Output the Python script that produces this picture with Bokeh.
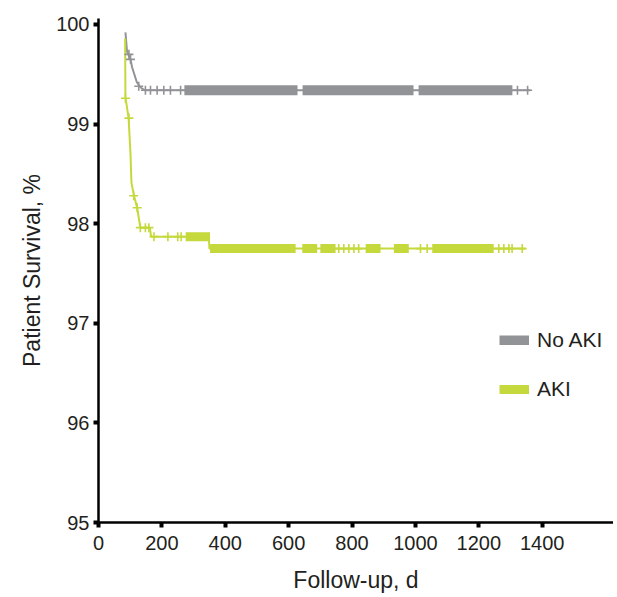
from bokeh.plotting import figure
from bokeh.models import Range1d, FixedTicker, Legend, LegendItem, ColumnDataSource
from bokeh.embed import file_html
from bokeh.resources import INLINE

# ---- data ----
x_ticks = [0, 200, 400, 600, 800, 1000, 1200, 1400]
y_ticks = [95, 96, 97, 98, 99, 100]

# No AKI survival curve (days, %)
noaki_days = [85, 90, 101, 106, 121, 132, 146, 1363]
noaki_surv = [99.92, 99.73, 99.65, 99.57, 99.42, 99.37, 99.34, 99.34]
# isolated censor marks
noaki_cens_days = [96, 101, 127, 148, 164, 185, 206, 227, 259, 1322, 1354]
noaki_cens_surv = [99.70, 99.65, 99.38, 99.34, 99.34, 99.34, 99.34, 99.34, 99.34, 99.34, 99.34]
# dense runs of censor marks (start day, end day, level)
noaki_band_start = [271, 644, 1010]
noaki_band_end = [628, 994, 1306]
noaki_band_level = [99.34, 99.34, 99.34]

# AKI survival curve
aki_days = [84, 85, 95, 101, 104, 112, 122, 132, 162, 166, 348, 350, 1347]
aki_surv = [99.86, 99.27, 99.06, 98.70, 98.41, 98.28, 98.16, 97.96, 97.96, 97.87, 97.87, 97.75, 97.75]
aki_cens_days = [85, 96, 111, 122, 132, 148, 159, 175, 219, 250, 261,
                 758, 774, 790, 806, 821, 1016, 1037, 1263, 1279, 1295, 1305, 1337]
aki_cens_surv = [99.26, 99.06, 98.28, 98.16, 97.96, 97.96, 97.96, 97.87, 97.87, 97.87, 97.87,
                 97.75, 97.75, 97.75, 97.75, 97.75, 97.75, 97.75, 97.75, 97.75, 97.75, 97.75, 97.75]
aki_band_start = [275, 352, 643, 700, 843, 932, 1053]
aki_band_end = [352, 622, 690, 748, 890, 979, 1247]
aki_band_level = [97.87, 97.75, 97.75, 97.75, 97.75, 97.75, 97.75]

GRAY = "#919396"
GREEN = "#c5d93c"
TEXT = "#231f20"
FONT = "Liberation Sans"

p = figure(frame_width=515, frame_height=504,
           x_range=Range1d(0, 1625), y_range=Range1d(95, 100.06),
           output_backend="svg", toolbar_location=None,
           min_border_left=98, min_border_top=18, min_border_bottom=70, min_border_right=0,
           background_fill_color="white", border_fill_color="white")
p.outline_line_color = None
p.grid.visible = False

# curves
p.line(noaki_days, noaki_surv, line_color=GRAY, line_width=2)
p.line(aki_days, aki_surv, line_color=GREEN, line_width=2)

# censor marks
p.scatter(noaki_cens_days, noaki_cens_surv, marker="cross", size=9, line_width=1.6, line_color=GRAY)
p.scatter(aki_cens_days, aki_cens_surv, marker="cross", size=9, line_width=1.6, line_color=GREEN)

gsrc = ColumnDataSource(dict(x0=noaki_band_start, x1=noaki_band_end, y=noaki_band_level))
asrc = ColumnDataSource(dict(x0=aki_band_start, x1=aki_band_end, y=aki_band_level))
rg = p.segment(x0="x0", x1="x1", y0="y", y1="y", source=gsrc, line_color=GRAY, line_width=10, line_cap="butt")
ra = p.segment(x0="x0", x1="x1", y0="y", y1="y", source=asrc, line_color=GREEN, line_width=9, line_cap="butt")

# axes
for ax in (p.xaxis[0], p.yaxis[0]):
    ax.axis_line_width = 2.5
    ax.axis_line_color = "black"
    ax.major_tick_line_width = 4
    ax.major_tick_line_color = "black"
    ax.major_tick_out = 5
    ax.major_tick_in = 0
    ax.minor_tick_line_color = None
    ax.major_label_text_font = FONT
    ax.major_label_text_font_size = "20px"
    ax.major_label_text_color = TEXT
    ax.axis_label_text_font = FONT
    ax.axis_label_text_font_size = "23px"
    ax.axis_label_text_font_style = "normal"
    ax.axis_label_text_color = TEXT

p.xaxis.ticker = FixedTicker(ticks=x_ticks)
p.yaxis.ticker = FixedTicker(ticks=y_ticks)
p.xaxis.axis_label = "Follow-up, d"
p.yaxis.axis_label = "Patient Survival, %"
p.xaxis.major_label_standoff = 8
p.xaxis.axis_label_standoff = 14
p.yaxis.major_label_standoff = 4
p.yaxis.axis_label_standoff = 8

legend = Legend(items=[LegendItem(label="No AKI", renderers=[rg]),
                       LegendItem(label="AKI", renderers=[ra])],
                location=(401, 121), orientation="vertical",
                glyph_width=30, glyph_height=10, label_standoff=8,
                spacing=25, padding=0, margin=0,
                border_line_alpha=0, background_fill_alpha=0,
                label_text_font=FONT, label_text_font_size="21px", label_text_color=TEXT)
p.add_layout(legend, "center")

open("out.html", "w").write(file_html(p, INLINE))
